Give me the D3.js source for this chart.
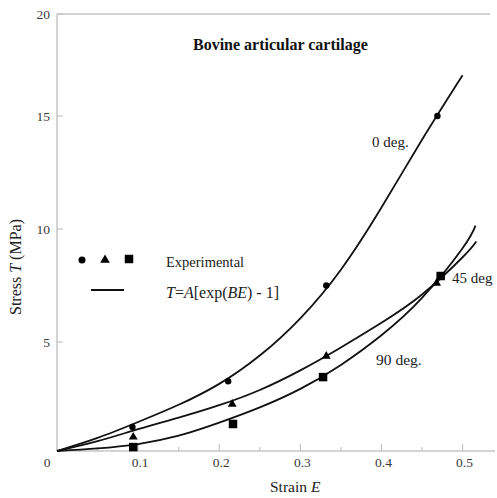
<!DOCTYPE html>
<html><head><meta charset="utf-8">
<script src="https://cdn.jsdelivr.net/npm/d3@7"></script>
<style>
html,body{margin:0;padding:0;background:#fff;}
svg text{font-family:"Liberation Serif","Times New Roman",serif;}
</style></head>
<body><svg id="chart" width="497" height="498"></svg>
<script>
// ---- data ----
const curveStrain = [0, 0.05, 0.1, 0.15, 0.2, 0.25, 0.3, 0.35, 0.4, 0.45, 0.5];
const curve0Stress = [0, 0.6, 1.33, 2.12, 3.08, 4.38, 6.05, 8.2, 10.95, 13.95, 17.0];
const curve45Strain = [0, 0.05, 0.1, 0.15, 0.2, 0.25, 0.3, 0.35, 0.4, 0.45, 0.5, 0.517];
const curve45Stress = [0, 0.45, 1.0, 1.53, 2.1, 2.8, 3.7, 4.75, 5.85, 7.1, 8.75, 9.45];
const curve90Strain = [0, 0.05, 0.1, 0.15, 0.2, 0.25, 0.3, 0.35, 0.4, 0.45, 0.5, 0.516];
const curve90Stress = [0, 0.12, 0.32, 0.7, 1.3, 2.0, 2.85, 3.95, 5.3, 6.95, 9.15, 10.15];

const exp0Strain = [0.093, 0.211, 0.332, 0.469];
const exp0Stress = [1.10, 3.2, 7.5, 15.0];
const exp45Strain = [0.094, 0.216, 0.332, 0.468];
const exp45Stress = [0.64, 2.15, 4.35, 7.6];
const exp90Strain = [0.094, 0.217, 0.328, 0.473];
const exp90Stress = [0.18, 1.24, 3.39, 7.92];

const xMajorTicks = [0.1, 0.2, 0.3, 0.4, 0.5];
const xMinorTicks = [0.05, 0.15, 0.25, 0.35, 0.45];
const yTicks = [5, 10, 15, 20];

// ---- scales ----
const svg = d3.select("#chart");
const x = d3.scaleLinear().domain([0, 0.54]).range([57, 495]);
const y = d3.scaleLinear().domain([0, 5, 10, 15, 20]).range([451, 342, 229, 116, 14]);

const axisCol = "#c4c4c4";
const tickTxt = "#3a3a3a";

// frame lines
svg.append("line").attr("x1", x(0)).attr("x2", x(0.54)).attr("y1", y(0)).attr("y2", y(0))
  .attr("stroke", axisCol).attr("stroke-width", 1.5);
svg.append("line").attr("x1", x(0)).attr("x2", x(0)).attr("y1", y(0)).attr("y2", y(20))
  .attr("stroke", axisCol).attr("stroke-width", 1.5);
svg.append("line").attr("x1", x(0)).attr("x2", 490).attr("y1", y(20)).attr("y2", y(20))
  .attr("stroke", axisCol).attr("stroke-width", 1.5);

// x ticks (inward)
svg.selectAll(".xmaj").data(xMajorTicks).enter().append("line")
  .attr("x1", d => x(d)).attr("x2", d => x(d)).attr("y1", y(0)).attr("y2", y(0) - 7)
  .attr("stroke", axisCol).attr("stroke-width", 1.2);
svg.selectAll(".xmin").data(xMinorTicks).enter().append("line")
  .attr("x1", d => x(d)).attr("x2", d => x(d)).attr("y1", y(0)).attr("y2", y(0) - 4)
  .attr("stroke", axisCol).attr("stroke-width", 1.2);
svg.selectAll(".xlab").data([0].concat(xMajorTicks)).enter().append("text")
  .attr("x", d => d === 0 ? x(0) - 10 : x(d) + 2).attr("y", y(0) + 16)
  .attr("text-anchor", "middle").attr("font-size", 13.5).attr("fill", tickTxt)
  .text(d => d === 0 ? "0" : d3.format(".1f")(d));

// y ticks
svg.selectAll(".ytk").data(yTicks).enter().append("line")
  .attr("x1", x(0)).attr("x2", x(0) + 6).attr("y1", d => y(d)).attr("y2", d => y(d))
  .attr("stroke", axisCol).attr("stroke-width", 1.2);
svg.selectAll(".ylab").data(yTicks).enter().append("text")
  .attr("x", 50).attr("y", d => y(d) + 5)
  .attr("text-anchor", "end").attr("font-size", 13.5).attr("fill", tickTxt)
  .text(d => d);

// axis titles
const xt = svg.append("text").attr("x", 270).attr("y", 492).attr("font-size", 15.5).attr("fill", "#222");
xt.append("tspan").text("Strain ");
xt.append("tspan").attr("font-style", "italic").text("E");
const yt = svg.append("text").attr("transform", "translate(21,267) rotate(-90)")
  .attr("text-anchor", "middle").attr("font-size", 16).attr("fill", "#222");
yt.append("tspan").text("Stress ");
yt.append("tspan").attr("font-style", "italic").text("T");
yt.append("tspan").text(" (MPa)");

// title
svg.append("text").attr("x", 193).attr("y", 50).attr("font-size", 16)
  .attr("font-weight", "bold").attr("fill", "#111").text("Bovine articular cartilage");

// curves
const line = d3.line().x(d => x(d[0])).y(d => y(d[1])).curve(d3.curveNatural);
const curves = [
  d3.zip(curveStrain, curve0Stress),
  d3.zip(curve45Strain, curve45Stress),
  d3.zip(curve90Strain, curve90Stress)
];
svg.selectAll(".curve").data(curves).enter().append("path")
  .attr("d", line).attr("fill", "none").attr("stroke", "#111").attr("stroke-width", 1.8);

// markers
svg.selectAll(".c0").data(d3.zip(exp0Strain, exp0Stress)).enter().append("circle")
  .attr("cx", d => x(d[0])).attr("cy", d => y(d[1])).attr("r", 3.2).attr("fill", "#000");
const tri = d3.symbol().type(d3.symbolTriangle).size(34);
svg.selectAll(".t45").data(d3.zip(exp45Strain, exp45Stress)).enter().append("path")
  .attr("d", tri).attr("transform", d => `translate(${x(d[0])},${y(d[1])})`).attr("fill", "#000");
const sq = d3.symbol().type(d3.symbolSquare).size(72);
svg.selectAll(".s90").data(d3.zip(exp90Strain, exp90Stress)).enter().append("path")
  .attr("d", sq).attr("transform", d => `translate(${x(d[0])},${y(d[1])})`).attr("fill", "#000");

// curve labels
svg.append("text").attr("x", 372).attr("y", 147).attr("font-size", 15).attr("fill", "#222").text("0 deg.");
svg.append("text").attr("x", 452).attr("y", 283).attr("font-size", 15).attr("fill", "#222").text("45 deg");
svg.append("text").attr("x", 376).attr("y", 365).attr("font-size", 15.5).attr("fill", "#222").text("90 deg.");

// legend
svg.append("circle").attr("cx", 82).attr("cy", 260).attr("r", 3.5).attr("fill", "#000");
svg.append("path").attr("d", d3.symbol().type(d3.symbolTriangle).size(40)).attr("transform", "translate(105,260)").attr("fill", "#000");
svg.append("path").attr("d", d3.symbol().type(d3.symbolSquare).size(72)).attr("transform", "translate(129,259)").attr("fill", "#000");
svg.append("line").attr("x1", 91).attr("x2", 124).attr("y1", 290).attr("y2", 290).attr("stroke", "#111").attr("stroke-width", 2);
svg.append("text").attr("x", 166).attr("y", 267).attr("font-size", 14.5).attr("fill", "#222").text("Experimental");
const ft = svg.append("text").attr("x", 166).attr("y", 298).attr("font-size", 16).attr("fill", "#222");
ft.append("tspan").attr("font-style", "italic").text("T");
ft.append("tspan").text("=");
ft.append("tspan").attr("font-style", "italic").text("A");
ft.append("tspan").text("[exp(");
ft.append("tspan").attr("font-style", "italic").text("BE");
ft.append("tspan").text(") - 1]");
</script></body></html>
